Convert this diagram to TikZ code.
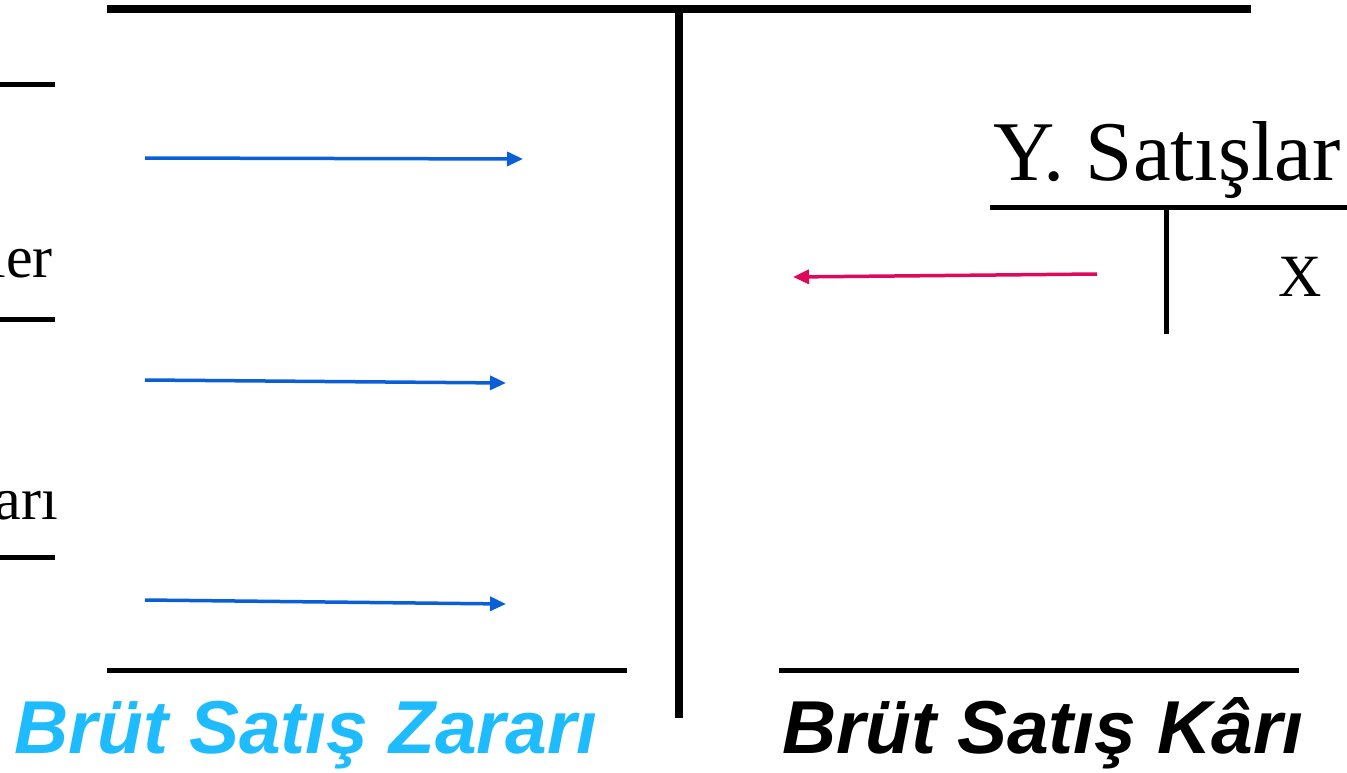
\documentclass[tikz,border=0pt]{standalone}
\usepackage{fontspec}
\setmainfont{Liberation Serif}
\newfontfamily\arialfont{Liberation Sans}
\usetikzlibrary{arrows.meta}
\definecolor{arrblue}{HTML}{0A5FD6}
\definecolor{arrred}{HTML}{E0085A}
\definecolor{titleblue}{HTML}{1EBCFF}
\tikzset{
  rule/.style={line width=5pt, black},
  bigrule/.style={line width=7.5pt, black},
  bluearrow/.style={line width=3.5pt, arrblue, -{Triangle[length=16pt,width=14pt]}},
  redarrow/.style={line width=3.5pt, arrred, -{Triangle[length=16pt,width=14pt]}},
  serif/.style={inner sep=0pt, font=\fontsize{60}{60}\selectfont},
  title/.style={inner sep=0pt, font=\arialfont\bfseries\itshape\fontsize{75}{75}\selectfont},
}
\begin{document}
\begin{tikzpicture}[x=1pt,y=-1pt]
\useasboundingbox (0,0) rectangle (1347,773);
% main T account
\coordinate (tl) at (107,9);
\coordinate (tr) at (1251,9);
\coordinate (vt) at (679,9);
\coordinate (vb) at (679,718);
\draw[bigrule] (tl) -- (tr);
\draw[bigrule] (vt) -- (vb);
% bottom rules
\coordinate (bl1) at (107,670); \coordinate (bl2) at (627,670);
\coordinate (br1) at (779,670); \coordinate (br2) at (1299,670);
\draw[rule] (bl1) -- (bl2);
\draw[rule] (br1) -- (br2);
% left short rules
\coordinate (s1a) at (0,85);  \coordinate (s1b) at (55,85);
\coordinate (s2a) at (0,319); \coordinate (s2b) at (55,319);
\coordinate (s3a) at (0,557); \coordinate (s3b) at (55,557);
\draw[rule] (s1a) -- (s1b);
\draw[rule] (s2a) -- (s2b);
\draw[rule] (s3a) -- (s3b);
% left texts
\node[serif, anchor=base east] (ler) at (53,277) {ler};
\node[serif, anchor=base east] (ari) at (58,519) {arı};
% blue arrows
\coordinate (a1s) at (145,158); \coordinate (a1e) at (523,159);
\coordinate (a2s) at (145,380); \coordinate (a2e) at (506,383);
\coordinate (a3s) at (145,600); \coordinate (a3e) at (506,604);
\draw[bluearrow] (a1s) -- (a1e);
\draw[bluearrow] (a2s) -- (a2e);
\draw[bluearrow] (a3s) -- (a3e);
% small T account
\node[serif, anchor=base, font=\fontsize{85}{85}\selectfont] (ys) at (1167,181) {Y. Satışlar};
\coordinate (sh1) at (990,207); \coordinate (sh2) at (1347,207);
\coordinate (sv1) at (1166,207); \coordinate (sv2) at (1166,334);
\draw[rule] (sh1) -- (sh2);
\draw[rule] (sv1) -- (sv2);
\node[serif, anchor=base] (x) at (1300,296) {X};
% red arrow
\coordinate (rs) at (1097,274); \coordinate (re) at (793,277);
\draw[redarrow] (rs) -- (re);
% titles
\node[title, titleblue, anchor=base west] (zarar) at (14,753) {Brüt Satış Zararı};
\node[title, anchor=base west] (kar) at (782,753) {Brüt Satış Kârı};
\end{tikzpicture}
\end{document}
